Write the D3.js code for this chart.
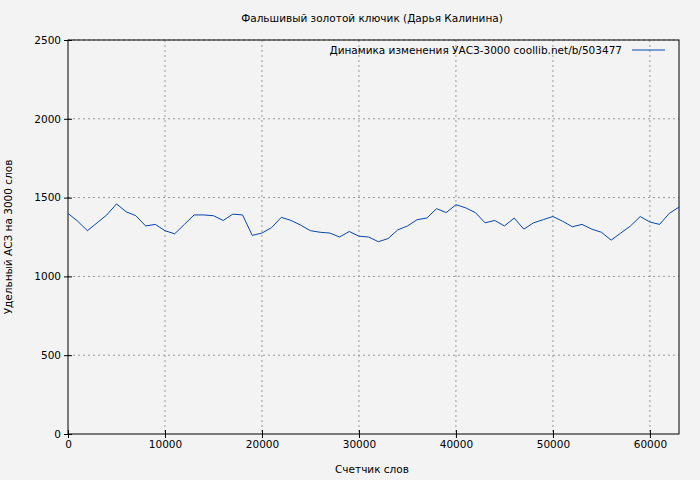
<!DOCTYPE html><html><head><meta charset="utf-8"><script src="https://cdn.jsdelivr.net/npm/d3@7"></script>
<style>body{margin:0;background:#f3f3f3}text{font-family:"DejaVu Sans",sans-serif;font-size:10.5px;fill:#000}</style></head><body>
<svg width="700" height="480"></svg>
<script>
const words=[0,1000,2000,3000,4000,5000,6000,7000,8000,9000,10000,11000,12000,13000,14000,15000,16000,17000,18000,19000,20000,21000,22000,23000,24000,25000,26000,27000,28000,29000,30000,31000,32000,33000,34000,35000,36000,37000,38000,39000,40000,41000,42000,43000,44000,45000,46000,47000,48000,49000,50000,51000,52000,53000,54000,55000,56000,57000,58000,59000,60000,61000,62000,63000];
const values=[1400,1350,1290,1340,1390,1460,1410,1385,1320,1330,1290,1270,1330,1390,1390,1385,1355,1395,1390,1260,1275,1310,1375,1355,1325,1290,1280,1275,1250,1285,1255,1250,1220,1240,1295,1320,1360,1370,1430,1405,1455,1435,1405,1340,1355,1320,1370,1300,1340,1360,1380,1350,1315,1330,1300,1280,1230,1275,1320,1380,1345,1330,1400,1440];
const xTicks=[0,10000,20000,30000,40000,50000,60000];
const yTicks=[0,500,1000,1500,2000,2500];
const svg=d3.select("svg");
const L=68,R=679,T=40,B=434;
const x=d3.scaleLinear().domain([0,63000]).range([L,R]);
const y=d3.scaleLinear().domain([0,2500]).range([B,T]);
const g=svg.append("g");
xTicks.forEach(t=>{if(t>0)g.append("line").attr("x1",x(t)).attr("x2",x(t)).attr("y1",T).attr("y2",B).attr("stroke","#999").attr("stroke-dasharray","2,3");});
yTicks.forEach(t=>{if(t>0)g.append("line").attr("x1",L).attr("x2",R).attr("y1",y(t)).attr("y2",y(t)).attr("stroke","#999").attr("stroke-dasharray","2,3");});
svg.append("rect").attr("x",L).attr("y",T).attr("width",R-L).attr("height",B-T).attr("fill","none").attr("stroke","#000");
const xa=svg.append("g").attr("transform",`translate(0,${B})`).call(d3.axisBottom(x).tickValues(xTicks).tickFormat(d3.format("d")).tickSize(4).tickSizeOuter(0));
const ya=svg.append("g").attr("transform",`translate(${L},0)`).call(d3.axisLeft(y).tickValues(yTicks).tickFormat(d3.format("d")).tickSize(4).tickSizeOuter(0));
[xa,ya].forEach(a=>{a.select(".domain").remove();a.selectAll("text").style("font-family","DejaVu Sans").style("font-size","10.5px");});
ya.selectAll(".tick line").attr("x2",4).attr("x1",-4);
xa.selectAll(".tick line").attr("y1",-4).attr("y2",4);
svg.append("path").datum(words.map((w,i)=>[w,values[i]])).attr("fill","none").attr("stroke","#0645ad").attr("stroke-width",1)
 .attr("d",d3.line().x(d=>x(d[0])).y(d=>y(d[1])));
svg.append("text").attr("x",372).attr("y",22).attr("text-anchor","middle").text("Фальшивый золотой ключик (Дарья Калинина)");
svg.append("text").attr("x",372).attr("y",473).attr("text-anchor","middle").text("Счетчик слов");
svg.append("text").attr("transform","translate(12,237) rotate(-90)").attr("text-anchor","middle").text("Удельный АСЗ на 3000  слов");
svg.append("text").attr("x",622).attr("y",54).attr("text-anchor","end").text("Динамика изменения УАСЗ-3000  coollib.net/b/503477");
svg.append("line").attr("x1",632).attr("x2",665).attr("y1",50).attr("y2",50).attr("stroke","#0645ad");
</script></body></html>
